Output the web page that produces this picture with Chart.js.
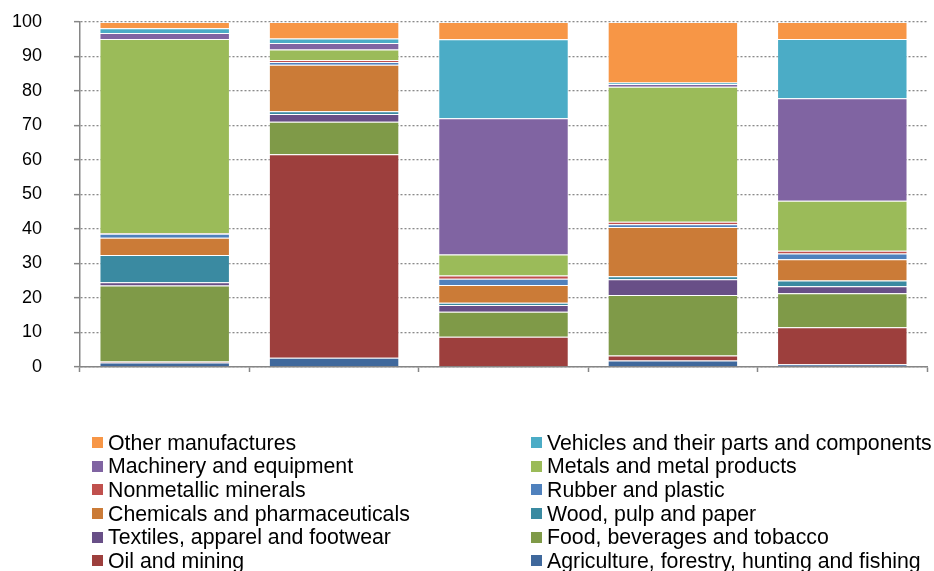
<!DOCTYPE html>
<html>
<head>
<meta charset="utf-8">
<script src="https://cdn.jsdelivr.net/npm/chart.js@4"></script>
<style>
  body { margin: 0; background: #fff; }
  #wrap { position: relative; width: 934px; height: 571px; }
  #legend {
    position: absolute; left: 92px; top: 431.5px;
    display: grid; grid-template-columns: 439px 400px;
    font: 21.3px "Liberation Sans", Arial, sans-serif; color: #000;
    line-height: 23.7px;
  }
  #legend .item { white-space: nowrap; display: flex; align-items: center; }
  #legend .box { width: 11px; height: 11px; margin-right: 5px; margin-top: -2px; flex: none; }
</style>
</head>
<body>
<div id="wrap">
  <canvas id="sectorChart" width="934" height="571"></canvas>
  <div id="legend"></div>
</div>
<script>
// five bars, no category names shown
const categories = ["", "", "", "", ""];
const yTicks = [0, 10, 20, 30, 40, 50, 60, 70, 80, 90, 100];

// shares in %, bottom of the stack first
const agriculture = [1.3, 2.7, 0.2, 1.9, 0.8];
const oilMining = [0.3, 59.0, 8.6, 1.4, 10.7];
const food = [22.0, 9.4, 7.2, 17.6, 9.9];
const textiles = [1.0, 2.2, 2.0, 4.5, 2.0];
const wood = [7.9, 0.8, 0.6, 0.9, 1.7];
const chemicals = [5.0, 13.5, 5.2, 14.3, 6.1];
const rubber = [1.1, 0.8, 1.8, 0.8, 1.7];
const nonmetallic = [0.2, 0.6, 0.9, 0.7, 0.8];
const metals = [56.3, 3.0, 6.1, 39.1, 14.5];
const machinery = [1.7, 1.9, 39.5, 0.8, 29.7];
const vehicles = [1.4, 1.3, 22.9, 0.5, 17.2];
const other = [1.8, 4.8, 5.0, 17.5, 4.9];

const series = [
  { label: "Agriculture, forestry, hunting and fishing", data: agriculture, color: "#3F689C" },
  { label: "Oil and mining", data: oilMining, color: "#9D3F3D" },
  { label: "Food, beverages and tobacco", data: food, color: "#7F9A48" },
  { label: "Textiles, apparel and footwear", data: textiles, color: "#684F87" },
  { label: "Wood, pulp and paper", data: wood, color: "#3A8AA1" },
  { label: "Chemicals and pharmaceuticals", data: chemicals, color: "#CB7B37" },
  { label: "Rubber and plastic", data: rubber, color: "#4F81BD" },
  { label: "Nonmetallic minerals", data: nonmetallic, color: "#C0504D" },
  { label: "Metals and metal products", data: metals, color: "#9BBB59" },
  { label: "Machinery and equipment", data: machinery, color: "#8064A2" },
  { label: "Vehicles and their parts and components", data: vehicles, color: "#4BACC6" },
  { label: "Other manufactures", data: other, color: "#F79646" },
];

const chart = new Chart(document.getElementById("sectorChart"), {
  type: "bar",
  data: {
    labels: categories,
    datasets: series.map((s) => ({
      label: s.label,
      data: s.data,
      backgroundColor: s.color,
      borderColor: "rgba(255,255,255,0.25)",
      borderWidth: 1,
      categoryPercentage: 1,
      barPercentage: 0.77,
    })),
  },
  options: {
    responsive: false,
    animation: false,
    layout: { padding: { top: 22, right: 7, left: 0, bottom: 0 } },
    plugins: { legend: { display: false }, tooltip: { enabled: false } },
    scales: {
      x: {
        stacked: true,
        ticks: { display: false },
        grid: { display: true, offset: true, drawOnChartArea: false, tickLength: 5, tickColor: "#868686", tickWidth: 1.5 },
        border: { color: "#868686", width: 1.5 },
        afterFit: (s) => { s.height = 204; },
      },
      y: {
        stacked: true,
        min: 0,
        max: 100,
        afterBuildTicks: (s) => { s.ticks = yTicks.map((v) => ({ value: v })); },
        ticks: { padding: 32, color: "#000", font: { family: "Liberation Sans, Arial, sans-serif", size: 18 } },
        grid: {
          color: "#8a8a8a", lineWidth: 1.3,
          tickLength: 6, tickColor: "#868686", tickWidth: 1.5, tickBorderDash: [],
        },
        border: { color: "#868686", width: 1.5, dash: [2, 2] },
        // the big label gap should not push the plot down
        afterFit: (s) => { s.width = 80; s.paddingTop = 0; s.paddingBottom = 0; },
      },
    },
  },
});

// two-column legend, same order as the stack read top-down
const legend = document.getElementById("legend");
chart.data.datasets.slice().reverse().forEach((ds) => {
  const item = document.createElement("div");
  item.className = "item";
  const box = document.createElement("span");
  box.className = "box";
  box.style.background = ds.backgroundColor;
  item.appendChild(box);
  item.appendChild(document.createTextNode(ds.label));
  legend.appendChild(item);
});
</script>
</body>
</html>
